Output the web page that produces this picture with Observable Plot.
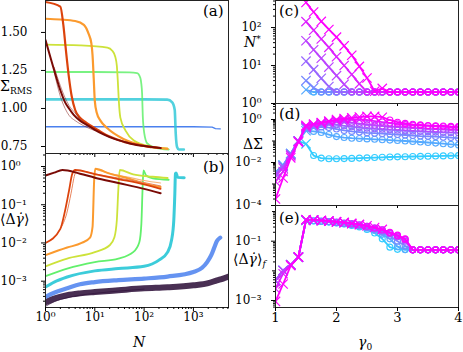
<!DOCTYPE html>
<html><head><meta charset="utf-8">
<script src="https://cdn.jsdelivr.net/npm/d3@7"></script>
<script src="https://cdn.jsdelivr.net/npm/@observablehq/plot@0.6"></script>
<style>
html,body{margin:0;padding:0;background:#fff;}
#fig{position:relative;width:463px;height:352px;overflow:hidden;font-family:"DejaVu Serif",serif;color:#000;}
.lab{position:absolute;white-space:nowrap;line-height:1;font-size:14px;}
.plab{position:absolute;white-space:nowrap;line-height:1;font-size:15px;}
.sub{font-size:9px;position:relative;top:3px;}
</style></head><body><div id="fig"></div>
<script>
// ---------- colours ----------
const leftColors = ["#30123b","#4a80ee","#27c6d6","#62f06c","#cde23a","#fb9a2e","#dc430c","#7a0a05"];
const rightColors = ["#33ccff","#55aaff","#7788ff","#9966ff","#bb44ff","#dd22ff","#ff00ff"];

// ---------- panel (a): Sigma_RMS vs N ----------
const aN1 = [1, 10, 100, 1000, 2400, 2800, 3500];
const aS1 = [0.88, 0.88, 0.88, 0.88, 0.877, 0.868, 0.866];
const aN2 = [1, 10, 100, 295, 372, 418, 438, 468, 508, 640];
const aS2 = [1.06, 1.06, 1.06, 1.058, 1.04, 0.99, 0.835, 0.745, 0.73, 0.73];
const aN3 = [1, 10, 50, 72, 84, 88, 91, 94, 101, 116, 158, 318];
const aS3 = [1.24, 1.24, 1.237, 1.232, 1.20, 1.16, 1.10, 0.95, 0.835, 0.77, 0.745, 0.73];
const aN4 = [1, 5, 18, 22.6, 26, 28, 29.3, 30.7, 33, 42, 62, 134, 295];
const aS4 = [1.42, 1.415, 1.40, 1.38, 1.34, 1.28, 1.18, 1.05, 0.94, 0.855, 0.79, 0.75, 0.737];
const aN5 = [1, 2, 4, 6, 7.5, 8.5, 9, 9.5, 10, 11, 13, 18, 38, 84, 200, 300];
const aS5 = [1.59, 1.585, 1.575, 1.55, 1.49, 1.43, 1.35, 1.20, 1.05, 0.97, 0.92, 0.87, 0.80, 0.76, 0.74, 0.735];
const aN6 = [1, 2, 2.3, 2.6, 3.0, 3.4, 4.0, 5, 6.5, 8, 12, 20, 40, 80, 150, 216];
const aS6 = [1.70, 1.67, 1.55, 1.38, 1.20, 1.08, 0.99, 0.94, 0.91, 0.89, 0.855, 0.815, 0.78, 0.76, 0.745, 0.74];
const aN7 = [1, 1.3, 1.6, 2, 2.5, 3, 3.7, 5, 7, 10, 15, 25, 40, 70, 120, 216];
const aS7 = [1.45, 1.32, 1.22, 1.12, 1.04, 1.00, 0.96, 0.92, 0.89, 0.86, 0.83, 0.80, 0.78, 0.76, 0.75, 0.74];
const aN7b = [1.5, 2, 2.5, 3, 4, 5, 7, 10];
const aS7b = [1.24, 1.08, 1.0, 0.955, 0.92, 0.90, 0.875, 0.855];
const aN7c = [1.5, 2, 2.5, 3, 4, 5, 7, 10];
const aS7c = [1.27, 1.15, 1.07, 1.02, 0.97, 0.93, 0.895, 0.865];

// ---------- panel (b): <Δγ̇> vs N ----------
const bN0 = [1, 1.5, 2.75, 5, 10, 30, 100, 300, 1000, 2000, 3000, 4000, 5200];
const bV0 = [2.8e-4, 3.5e-4, 4.3e-4, 4.8e-4, 5.2e-4, 5.8e-4, 6.5e-4, 6.9e-4, 7.8e-4, 8.9e-4, 1.05e-3, 1.17e-3, 1.32e-3];
const bN0b = [1, 1.5, 2.75, 5, 10, 30, 100];
const bV0b = [2.2e-4, 2.9e-4, 3.7e-4, 4.3e-4, 4.8e-4, 5.5e-4, 6.2e-4];
const bN1 = [1, 1.5, 2.75, 5, 10, 30, 100, 300, 1000, 1500, 1900, 2300, 2600, 3000, 3500];
const bV1 = [3.9e-4, 5.0e-4, 6.5e-4, 8.3e-4, 9.5e-4, 1.07e-3, 1.17e-3, 1.32e-3, 1.74e-3, 2.24e-3, 3.16e-3, 4.8e-3, 7.1e-3, 1.12e-2, 1.38e-2];
const bN2 = [1, 1.5, 2.75, 10, 30, 100, 200, 300, 360, 400, 420, 432, 445, 480, 650];
const bV2 = [7.1e-4, 9.5e-4, 1.29e-3, 1.86e-3, 2.14e-3, 2.45e-3, 3.55e-3, 5.75e-3, 1.17e-2, 3.9e-2, 0.195, 0.65, 0.68, 0.52, 0.51];
const bN3 = [1, 2.75, 10, 30, 60, 80, 88, 93, 97, 110, 150, 315];
const bV3 = [1.35e-3, 2.14e-3, 3.16e-3, 3.9e-3, 5.75e-3, 1.05e-2, 3.16e-2, 0.25, 0.79, 0.58, 0.49, 0.45];
const bN4 = [1, 2.75, 10, 20, 25, 28, 30, 32, 60, 150, 300];
const bV4 = [2.45e-3, 3.9e-3, 5.75e-3, 8.7e-3, 1.41e-2, 3.98e-2, 0.25, 0.81, 0.62, 0.54, 0.50];
const bN5 = [1, 2.75, 5.4, 8, 9, 9.7, 10.2, 20, 50, 100, 216];
const bV5 = [4.8e-3, 7.6e-3, 1.0e-2, 1.38e-2, 2.63e-2, 0.43, 0.87, 0.65, 0.48, 0.36, 0.29];
const bN5b = [10.5, 20, 50, 100, 216];
const bV5b = [0.85, 0.66, 0.52, 0.43, 0.37];
const bN6 = [1, 2, 2.5, 3, 3.5, 4, 10, 30, 100, 216];
const bV6 = [1.0e-2, 2.34e-2, 7.1e-2, 0.234, 0.65, 0.81, 0.63, 0.47, 0.34, 0.26];
const bN6b = [2, 2.7, 3.3, 3.9, 4.3, 10, 30, 100, 216];
const bV6b = [2.34e-2, 0.06, 0.2, 0.6, 0.8, 0.64, 0.5, 0.38, 0.31];
const bN7 = [1, 1.5, 2.2, 5, 10, 30, 100, 216];
const bV7 = [0.58, 0.69, 0.81, 0.65, 0.51, 0.37, 0.26, 0.20];

// ---------- right column: shared γ0 grid ----------
const gamma0 = [1, 1.125, 1.25, 1.375, 1.5, 1.625, 1.75, 1.875, 2, 2.125, 2.25, 2.375, 2.5, 2.625, 2.75, 2.875, 3, 3.125, 3.25, 3.375, 3.5, 3.625, 3.75, 3.875, 4];

// panel (c): N*
const nStar0 = [null,null,null,null,null,2,2,2,2,2,2,2,2,2,2,2,2,2,2,2,2,2,2,2,2];
const nStar1 = [null,null,null,null,2.3,2,2,2,2,2,2,2,2,2,2,2,2,2,2,2,2,2,2,2,2];
const nStar2 = [null,null,null,null,4,2.6,2,2,2,2,2,2,2,2,2,2,2,2,2,2,2,2,2,2,2];
const nStar3 = [null,null,null,null,13,7.8,4.6,2.8,2,2,2,2,2,2,2,2,2,2,2,2,2,2,2,2,2];
const nStar4 = [null,null,null,null,45,26,15.5,9.1,5.4,3.2,2,2,2,2,2,2,2,2,2,2,2,2,2,2,2];
const nStar5 = [null,null,null,null,143,85,50,30,17,10,5.8,3.3,2,2,2,2,2,2,2,2,2,2,2,2,2];
const nStar6 = [null,null,null,null,457,257,145,89,56,33,18.6,9.5,4.7,2.1,2.5,2,2,2,2,2,2,2,2,2,2];

// panel (d): ΔΣ
const dSig0 = [3.5e-3, 7.5e-3, 0.026, 0.1, 0.074, 0.021, 0.016, 0.015, 0.015, 0.0152, 0.0155, 0.016, 0.0165, 0.017, 0.0175, 0.018, 0.0183, 0.0186, 0.019, 0.0193, 0.0196, 0.02, 0.0203, 0.0206, 0.021];
const dSig1 = [3.5e-3, 7.5e-3, 0.026, 0.1, 0.3, 0.28, 0.25, 0.2, 0.16, 0.145, 0.135, 0.13, 0.125, 0.12, 0.115, 0.11, 0.105, 0.1, 0.095, 0.09, 0.085, 0.08, 0.075, 0.07, 0.066];
const dSig2 = [3.3e-3, 7e-3, 0.025, 0.1, 0.38, 0.43, 0.45, 0.42, 0.36, 0.31, 0.28, 0.26, 0.24, 0.23, 0.22, 0.21, 0.2, 0.19, 0.18, 0.17, 0.165, 0.16, 0.15, 0.145, 0.135];
const dSig3 = [3e-3, 6.5e-3, 0.024, 0.1, 0.42, 0.5, 0.57, 0.6, 0.57, 0.51, 0.46, 0.42, 0.39, 0.37, 0.35, 0.33, 0.32, 0.3, 0.29, 0.28, 0.27, 0.26, 0.25, 0.245, 0.24];
const dSig4 = [2.5e-3, 5.5e-3, 0.022, 0.1, 0.45, 0.55, 0.66, 0.75, 0.8, 0.78, 0.72, 0.65, 0.59, 0.54, 0.5, 0.47, 0.45, 0.43, 0.41, 0.39, 0.37, 0.36, 0.35, 0.34, 0.33];
const dSig5 = [1.3e-3, 3.8e-3, 0.02, 0.095, 0.48, 0.58, 0.68, 0.78, 0.88, 0.95, 1.0, 1.0, 0.95, 0.85, 0.76, 0.69, 0.63, 0.58, 0.55, 0.52, 0.5, 0.48, 0.46, 0.44, 0.42];
const dSig6 = [2e-4, 1.9e-3, 0.0165, 0.089, 0.53, 0.62, 0.72, 0.85, 1.0, 1.1, 1.2, 1.3, 1.4, 1.4, 1.28, 0.95, 0.75, 0.66, 0.6, 0.56, 0.53, 0.51, 0.5, 0.48, 0.47];

// panel (e): <Δγ̇>_f
const eRate0 = [4.7e-3, 0.0103, 0.016, 0.029, 0.5, 0.48, 0.46, 0.44, 0.41, 0.38, 0.34, 0.3, 0.25, 0.19, 0.12, 0.063, 0.053, 0.052, 0.051, 0.051, 0.051, 0.051, 0.051, 0.051, 0.051];
const eRate1 = [4.7e-3, 0.0103, 0.016, 0.029, 0.51, 0.49, 0.47, 0.45, 0.42, 0.39, 0.36, 0.32, 0.28, 0.23, 0.17, 0.12, 0.065, 0.052, 0.051, 0.051, 0.051, 0.051, 0.051, 0.051, 0.051];
const eRate2 = [4.7e-3, 0.0103, 0.016, 0.029, 0.52, 0.5, 0.48, 0.46, 0.43, 0.4, 0.37, 0.33, 0.29, 0.25, 0.2, 0.15, 0.1, 0.07, 0.051, 0.051, 0.051, 0.051, 0.051, 0.051, 0.051];
const eRate3 = [4.7e-3, 0.0103, 0.016, 0.029, 0.52, 0.51, 0.49, 0.47, 0.44, 0.41, 0.38, 0.35, 0.31, 0.27, 0.22, 0.18, 0.14, 0.1, 0.051, 0.051, 0.051, 0.051, 0.051, 0.051, 0.051];
const eRate4 = [4.7e-3, 0.0103, 0.016, 0.029, 0.53, 0.52, 0.5, 0.48, 0.45, 0.42, 0.39, 0.36, 0.32, 0.28, 0.24, 0.19, 0.15, 0.11, 0.051, 0.051, 0.051, 0.051, 0.051, 0.051, 0.051];
const eRate5 = [2.5e-3, 8e-3, 0.016, 0.029, 0.53, 0.52, 0.5, 0.48, 0.45, 0.42, 0.39, 0.36, 0.32, 0.28, 0.24, 0.19, 0.15, 0.115, 0.051, 0.051, 0.051, 0.051, 0.051, 0.051, 0.051];
const eRate6 = [9.3e-4, 3.6e-3, 0.015, 0.029, 0.53, 0.52, 0.5, 0.48, 0.45, 0.43, 0.4, 0.37, 0.33, 0.29, 0.25, 0.2, 0.16, 0.12, 0.051, 0.051, 0.051, 0.051, 0.051, 0.051, 0.051];

// ---------- tick values ----------
const xLeftMajor = [1, 10, 100, 1000];
const aYTicks = [0.75, 1.0, 1.25, 1.5];
const bYMajor = [1e-3, 1e-2, 1e-1, 1];
const cYMajor = [1, 10, 100];
const dYLabelled = [1e-4, 1e-2, 1];
const dYOther = [1e-3, 1e-1];
const eYLabelled = [1e-3, 1e-1];
const eYOther = [1e-2, 1];
const xRightTicks = [1, 2, 3, 4];

// ---------- helpers ----------
const fig = document.getElementById("fig");
const supMap = {"-":"⁻","0":"⁰","1":"¹","2":"²","3":"³","4":"⁴","5":"⁵","6":"⁶","7":"⁷","8":"⁸","9":"⁹"};
const pow10 = d => "10" + String(Math.round(Math.log10(d))).split("").map(c => supMap[c]).join("");
function logMinor(lo, hi) {
  const t = [];
  for (let e = Math.floor(Math.log10(lo)); e <= Math.ceil(Math.log10(hi)); e++)
    for (let m = 2; m <= 9; m++) { const v = m * Math.pow(10, e); if (v >= lo && v <= hi) t.push(v); }
  return t;
}
function mkPanel(box, xOpt, yOpt, marks) {
  const ml = 50, mr = 8, mt = 8, mb = 30;
  const svg = Plot.plot({
    width: (box[1] - box[0]) + ml + mr,
    height: (box[3] - box[2]) + mt + mb,
    marginLeft: ml, marginRight: mr, marginTop: mt, marginBottom: mb,
    style: {background: "transparent", fontFamily: "'DejaVu Serif', serif", fontSize: "12px", overflow: "visible", color: "#000"},
    x: {...xOpt, axis: null},
    y: {...yOpt, axis: null},
    marks
  });
  svg.style.position = "absolute";
  svg.style.left = (box[0] - ml) + "px";
  svg.style.top = (box[2] - mt) + "px";
  svg.style.maxWidth = "none";
  fig.appendChild(svg);
}
const lineOf = (xs, ys, opts) => Plot.line(xs.map((x, i) => [x, ys[i]]).filter(d => d[1] != null),
  {x: d => d[0], y: d => d[1], clip: true, ...opts});

const xLeft = {type: "log", domain: [1, 5150]};
const xRight = {type: "linear", domain: [1, 4]};
const frameMark = Plot.frame({stroke: "#222", strokeWidth: 1});

// ---------- panel (a) ----------
mkPanel([45, 228, 0, 153], xLeft, {type: "linear", domain: [0.704, 1.71]}, [
  lineOf(aN1, aS1, {stroke: leftColors[1], strokeWidth: 1.3}),
  lineOf(aN2, aS2, {stroke: leftColors[2], strokeWidth: 2.6, strokeOpacity: 0.8, curve: "monotone-x"}),
  lineOf(aN3, aS3, {stroke: leftColors[3], strokeWidth: 1.8, strokeOpacity: 0.85, curve: "monotone-x"}),
  lineOf(aN4, aS4, {stroke: leftColors[4], strokeWidth: 1.8, curve: "monotone-x"}),
  lineOf(aN5, aS5, {stroke: leftColors[5], strokeWidth: 2.2, curve: "monotone-x"}),
  lineOf(aN6, aS6, {stroke: leftColors[6], strokeWidth: 2.2, curve: "monotone-x"}),
  lineOf(aN7b, aS7b, {stroke: leftColors[7], strokeWidth: 0.8, strokeOpacity: 0.6, curve: "monotone-x"}),
  lineOf(aN7c, aS7c, {stroke: leftColors[7], strokeWidth: 0.8, strokeOpacity: 0.6, curve: "monotone-x"}),
  lineOf(aN7, aS7, {stroke: leftColors[7], strokeWidth: 2, curve: "monotone-x"}),
  frameMark,
  Plot.axisY(aYTicks, {anchor: "left", tickSize: 4, tickPadding: 14, tickFormat: d => d.toFixed(2), fontSize: 12, label: null}),
  Plot.axisX(xLeftMajor, {anchor: "bottom", tickSize: 4, tickFormat: () => "", label: null}),
  Plot.axisX(logMinor(1, 5150), {anchor: "bottom", tickSize: 2, tickFormat: () => "", label: null})
]);

// ---------- panel (b) ----------
mkPanel([45, 228, 153, 307], xLeft, {type: "log", domain: [2.05e-4, 2.19]}, [
  lineOf(bN0b, bV0b, {stroke: leftColors[0], strokeWidth: 1, strokeOpacity: 0.7, curve: "monotone-x"}),
  lineOf(bN0, bV0, {stroke: leftColors[0], strokeWidth: 6, strokeOpacity: 0.88, curve: "monotone-x"}),
  lineOf(bN1, bV1, {stroke: leftColors[1], strokeWidth: 4.2, strokeOpacity: 0.85, curve: "monotone-x"}),
  lineOf(bN2, bV2, {stroke: leftColors[2], strokeWidth: 3, strokeOpacity: 0.9, curve: "monotone-x"}),
  lineOf(bN3, bV3, {stroke: leftColors[3], strokeWidth: 1.8, curve: "monotone-x"}),
  lineOf(bN4, bV4, {stroke: leftColors[4], strokeWidth: 1.8, curve: "monotone-x"}),
  lineOf(bN5b, bV5b, {stroke: "#f6b57a", strokeWidth: 1.2, curve: "monotone-x"}),
  lineOf(bN5, bV5, {stroke: leftColors[5], strokeWidth: 2, curve: "monotone-x"}),
  lineOf(bN6b, bV6b, {stroke: "#e9825a", strokeWidth: 1, curve: "monotone-x"}),
  lineOf(bN6, bV6, {stroke: leftColors[6], strokeWidth: 1.8, curve: "monotone-x"}),
  lineOf(bN7, bV7, {stroke: leftColors[7], strokeWidth: 2, curve: "monotone-x"}),
  frameMark,
  Plot.axisY(bYMajor, {anchor: "left", tickSize: 4, tickFormat: () => "", label: null}),
  Plot.axisY(logMinor(2.05e-4, 2.19), {anchor: "left", tickSize: 2, tickFormat: () => "", label: null}),
  Plot.text(bYMajor, {y: d => d, text: pow10, frameAnchor: "left", textAnchor: "start", dx: -45, fontSize: 12}),
  Plot.axisX(xLeftMajor, {anchor: "bottom", tickSize: 4, tickPadding: 1, tickFormat: pow10, fontSize: 12, label: null}),
  Plot.axisX(logMinor(1, 5150), {anchor: "bottom", tickSize: 2, tickFormat: () => "", label: null})
]);

// ---------- right column marks ----------
function curveMarks(ys, k, nstar) {
  const pts = gamma0.map((g, i) => ({g, v: ys[i], circ: nstar[i] != null && nstar[i] <= 2}))
    .filter(d => d.v != null);
  return [
    Plot.line(pts, {x: "g", y: "v", stroke: rightColors[k], strokeWidth: 1.8, clip: true}),
    Plot.dot(pts.filter(d => !d.circ), {x: "g", y: "v", symbol: "times", r: 4.3, stroke: rightColors[k], strokeWidth: 1.2, clip: true}),
    Plot.dot(pts.filter(d => d.circ), {x: "g", y: "v", symbol: "circle", r: 3, stroke: rightColors[k], strokeWidth: 1.1, fill: "none", clip: true})
  ];
}
const nStars = [nStar0, nStar1, nStar2, nStar3, nStar4, nStar5, nStar6];
const dSigs = [dSig0, dSig1, dSig2, dSig3, dSig4, dSig5, dSig6];
const eRates = [eRate0, eRate1, eRate2, eRate3, eRate4, eRate5, eRate6];

// ---------- panel (c) ----------
mkPanel([275, 458, 0, 103], xRight, {type: "log", domain: [1, 515]}, [
  ...nStars.flatMap((ns, k) => curveMarks(ns, k, ns)),
  frameMark,
  Plot.axisY(cYMajor, {anchor: "left", tickSize: 4, tickPadding: 10, tickFormat: pow10, fontSize: 12, label: null}),
  Plot.axisY(logMinor(1, 515), {anchor: "left", tickSize: 2, tickFormat: () => "", label: null}),
  Plot.axisX(xRightTicks, {anchor: "bottom", tickSize: 3, tickFormat: () => "", label: null})
]);

// ---------- panel (d) ----------
mkPanel([275, 458, 103, 205], xRight, {type: "log", domain: [1e-4, 5.55]}, [
  ...dSigs.flatMap((ys, k) => curveMarks(ys, k, nStars[k])),
  frameMark,
  Plot.axisY(dYLabelled, {anchor: "left", tickSize: 4, tickPadding: 10, tickFormat: pow10, fontSize: 12, label: null}),
  Plot.axisY(dYOther, {anchor: "left", tickSize: 3, tickFormat: () => "", label: null}),
  Plot.axisY(logMinor(1e-4, 5.55), {anchor: "left", tickSize: 2, tickFormat: () => "", label: null}),
  Plot.axisX(xRightTicks, {anchor: "bottom", tickSize: 3, tickFormat: () => "", label: null})
]);

// ---------- panel (e) ----------
mkPanel([275, 458, 205, 307], xRight, {type: "log", domain: [5.8e-4, 1.6]}, [
  ...eRates.flatMap((ys, k) => curveMarks(ys, k, nStars[k])),
  frameMark,
  Plot.axisY(eYLabelled, {anchor: "left", tickSize: 4, tickPadding: 10, tickFormat: pow10, fontSize: 12, label: null}),
  Plot.axisY(eYOther, {anchor: "left", tickSize: 3, tickFormat: () => "", label: null}),
  Plot.axisY(logMinor(5.8e-4, 1.6), {anchor: "left", tickSize: 2, tickFormat: () => "", label: null}),
  Plot.axisX(xRightTicks, {anchor: "bottom", tickSize: 4, tickPadding: 1, tickFormat: d => String(d), fontSize: 13, label: null})
]);

// ---------- text labels ----------
function lab(html, left, top, cls = "lab") {
  const d = document.createElement("div");
  d.className = cls; d.innerHTML = html;
  d.style.left = left + "px"; d.style.top = top + "px";
  fig.appendChild(d);
}
lab('Σ<span class="sub">RMS</span>', 0, 79);
lab('⟨Δ<i>γ̇</i>⟩', 0, 212);
lab('<i>N</i>', 133, 335);
lab('<i>N</i><span style="font-size:9px;position:relative;top:-5px">*</span>', 244, 35);
lab('ΔΣ', 243, 137);
lab('⟨Δ<i>γ̇</i>⟩<span class="sub"><i>f</i></span>', 233, 252);
lab('<i>γ</i><span class="sub">0</span>', 358, 335);
lab('(a)', 203, 4, "plab");
lab('(b)', 203, 160, "plab");
lab('(c)', 279, 4, "plab");
lab('(d)', 279, 107, "plab");
lab('(e)', 279, 211, "plab");
</script></body></html>
